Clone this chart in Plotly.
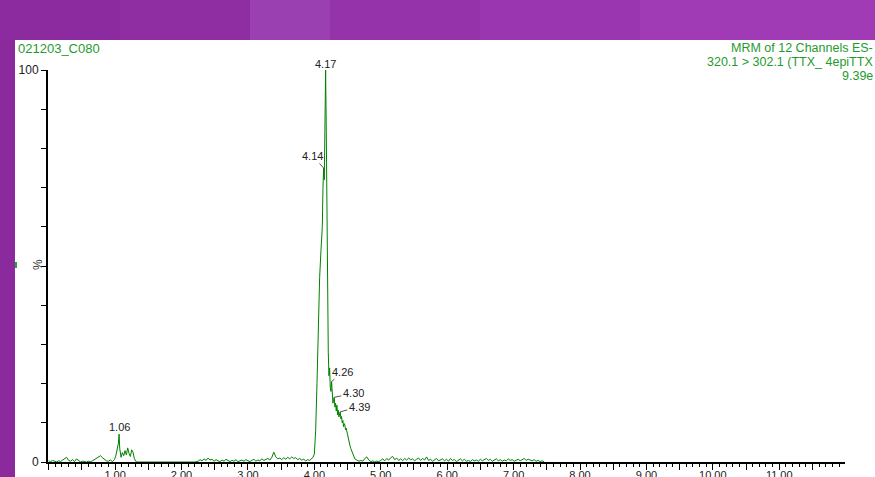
import plotly.graph_objects as go

# ---------------- data ----------------
t_early = [0.00, 0.03, 0.06, 0.09, 0.12, 0.15, 0.18, 0.21, 0.24, 0.27, 0.30, 0.33, 0.36, 0.39,
           0.42, 0.45, 0.48, 0.51, 0.54, 0.57, 0.60, 0.63, 0.66, 0.69, 0.72, 0.75, 0.78, 0.81,
           0.84, 0.87, 0.90, 0.93, 0.96, 0.99, 1.01, 1.03, 1.05, 1.06, 1.07, 1.09, 1.11, 1.13,
           1.15, 1.17, 1.19, 1.21, 1.23, 1.25, 1.27, 1.29, 1.31, 1.33, 1.40, 2.20]
i_early = [0.3, 0.1, 0.4, 0.2, 0.0, 0.3, 0.1, 0.5, 0.9, 1.2, 0.4, 0.2, 0.6, 0.1,
           0.8, 0.3, 0.0, 0.2, 0.1, 0.0, 0.2, 0.1, 0.3, 0.6, 1.0, 1.4, 1.6, 1.1,
           0.7, 0.3, 0.2, 0.5, 0.1, 0.6, 1.5, 3.0, 4.8, 7.1, 3.5, 1.2, 2.4, 1.6,
           2.9, 1.8, 3.6, 2.2, 1.4, 3.1, 2.5, 0.9, 0.2, 0.0, 0.0, 0.0]

t_mid = [2.25, 2.28, 2.31, 2.34, 2.37, 2.40, 2.43, 2.46, 2.49, 2.52, 2.55, 2.58, 2.61, 2.64,
         2.67, 2.70, 2.73, 2.76, 2.79, 2.82, 2.85, 2.88, 2.91, 2.94, 2.97, 3.00, 3.03, 3.06,
         3.09, 3.12, 3.15, 3.18, 3.21, 3.24, 3.27, 3.30, 3.33, 3.36, 3.39, 3.42, 3.45, 3.48,
         3.51, 3.54, 3.57, 3.60, 3.63, 3.66, 3.69, 3.72, 3.75, 3.78, 3.81, 3.84, 3.87, 3.90,
         3.93, 3.96]
i_mid = [0.2, 0.6, 0.3, 0.8, 0.4, 1.0, 0.5, 0.7, 0.2, 0.6, 0.3, 0.1, 0.5, 0.2,
         0.7, 0.3, 0.1, 0.4, 0.2, 0.6, 0.1, 0.3, 0.5, 0.2, 0.6, 0.3, 0.1, 0.4,
         0.7, 0.2, 0.5, 0.3, 0.8, 0.4, 0.6, 0.9, 0.5, 1.2, 2.5, 1.3, 0.8, 1.0,
         0.6, 1.1, 0.7, 1.2, 0.8, 1.3, 0.9, 1.1, 0.6, 0.9, 0.5, 0.7, 0.3, 0.6,
         0.4, 0.8]

t_peak = [3.98, 4.00, 4.02, 4.04, 4.06, 4.07, 4.08, 4.10, 4.12, 4.13, 4.14, 4.15, 4.16, 4.17,
          4.18, 4.19, 4.20, 4.21, 4.22, 4.23, 4.24, 4.25, 4.26, 4.27, 4.28, 4.29, 4.30, 4.31,
          4.32, 4.33, 4.34, 4.35, 4.36, 4.37, 4.38, 4.39, 4.40, 4.41, 4.42, 4.43, 4.44, 4.45,
          4.46, 4.47, 4.48, 4.49, 4.50, 4.51, 4.52, 4.53, 4.54, 4.55, 4.56, 4.58, 4.59, 4.61,
          4.64, 4.67]
i_peak = [1.2, 2.0, 8.0, 20.0, 35.0, 42.0, 47.0, 54.0, 60.0, 70.0, 75.0, 72.0, 90.0, 100.0,
          84.0, 60.0, 40.0, 28.0, 22.0, 24.0, 19.0, 18.0, 20.5, 17.0, 15.0, 16.0, 16.5, 14.0,
          15.0, 13.0, 14.5, 12.0, 13.2, 11.5, 12.4, 12.8, 11.0, 11.6, 10.0, 10.6, 9.0, 9.8,
          9.4, 8.2, 8.6, 7.7, 7.0, 6.5, 5.8, 5.0, 3.9, 3.4, 3.0, 2.2, 1.8, 0.8,
          0.5, 0.2]

t_late = [4.70, 4.73, 4.76, 4.79, 4.82, 4.85, 4.88, 4.91, 4.94, 4.97, 5.00, 5.03, 5.06, 5.09,
          5.12, 5.15, 5.18, 5.21, 5.24, 5.27, 5.30, 5.33, 5.36, 5.39, 5.42, 5.45, 5.48, 5.51,
          5.54, 5.57, 5.60, 5.63, 5.66, 5.69, 5.72, 5.75, 5.78, 5.81, 5.84, 5.87, 5.90, 5.93,
          5.96, 5.99, 6.02, 6.05, 6.08, 6.11, 6.14, 6.17, 6.20, 6.23, 6.26, 6.29, 6.32, 6.35,
          6.38, 6.41, 6.44, 6.47, 6.50, 6.53, 6.56, 6.59, 6.62, 6.65, 6.68, 6.71, 6.74, 6.77,
          6.80, 6.83, 6.86, 6.89, 6.92, 6.95, 6.98, 7.01, 7.04, 7.07, 7.10, 7.13, 7.16, 7.19,
          7.22, 7.25, 7.28, 7.31, 7.34, 7.37, 7.40, 7.43, 7.46]
i_late = [0.4, 0.2, 0.9, 1.3, 0.5, 0.1, 0.3, 0.0, 0.2, 0.1, 0.4, 0.8, 0.3, 0.9,
          0.5, 1.1, 1.4, 0.6, 1.0, 0.4, 0.8, 0.3, 0.9, 0.5, 1.0, 0.6, 0.8, 0.3,
          0.7, 1.0, 0.4, 0.9, 0.5, 1.3, 0.4, 0.7, 0.2, 0.5, 0.9, 0.3, 0.6, 0.8,
          0.3, 0.7, 0.2, 0.9, 0.4, 0.6, 0.1, 0.5, 0.8, 0.3, 0.7, 0.2, 0.4, 0.1,
          0.6, 0.3, 0.5, 0.2, 0.7, 0.3, 0.6, 0.9, 0.4, 0.7, 0.2, 0.5, 0.8, 0.3,
          0.6, 0.2, 0.5, 0.3, 0.8, 0.4, 0.6, 0.2, 0.5, 0.7, 0.3, 0.6, 0.9, 0.4,
          0.7, 0.5, 0.3, 0.6, 0.2, 0.4, 0.1, 0.3, 0.0]

peak_times = [1.06, 4.14, 4.17, 4.26, 4.30, 4.39]
peak_values = [7.1, 75.0, 100.0, 20.5, 16.5, 12.8]
peak_labels = ["1.06", "4.14", "4.17", "4.26", "4.30", "4.39"]

x_tick_vals = [0.5 * k for k in range(0, 24)]
x_tick_text = ["" if k % 2 else ("" if k == 0 else f"{k // 2}.00") for k in range(0, 24)]
y_tick_vals = list(range(0, 101, 10))
y_tick_text = ["0"] + [""] * 9 + ["100"]

title_left = "021203_C080"
title_right = ["MRM of 12 Channels ES-", "320.1 > 302.1 (TTX_ 4epiTTX", "9.39e"]

# ---------------- layout geometry ----------------
W, H = 875, 477
ML, MR, MT, MB = 48, 30, 70, 15
PW, PH = W - ML - MR, H - MT - MB


def px_x(p):
    return (p - ML) / PW


def px_y(p):
    return (H - MB - p) / PH


FONT = "Liberation Sans, Arial, sans-serif"
GREEN_TXT = "#1f9a2f"

times = t_early + t_mid + t_peak + t_late
vals = i_early + i_mid + i_peak + i_late

fig = go.Figure()
fig.add_trace(go.Scatter(x=times, y=vals, mode="lines",
                         line=dict(color="#008000", width=1), hoverinfo="skip"))

shapes = []
# purple surroundings
shapes.append(dict(type="rect", xref="paper", yref="paper", x0=px_x(15), x1=px_x(W + 5),
                   y0=px_y(H + 5), y1=px_y(40), fillcolor="white", line_width=0, layer="below"))
top_strips = [(-5, 120, "#8c2b9f"), (120, 250, "#8f2da2"), (250, 330, "#9b40b0"),
              (330, 480, "#9533aa"), (480, 640, "#9a36af"), (640, 880, "#a03bb5")]
for a, b, c in top_strips:
    shapes.append(dict(type="rect", xref="paper", yref="paper", x0=px_x(a), x1=px_x(b),
                       y0=px_y(40), y1=px_y(-5), fillcolor=c, line_width=0, layer="below"))
shapes.append(dict(type="rect", xref="paper", yref="paper", x0=px_x(-5), x1=px_x(15),
                   y0=px_y(H + 5), y1=px_y(40), fillcolor="#8a2a9d", line_width=0, layer="below"))
shapes.append(dict(type="rect", xref="paper", yref="paper", x0=px_x(15), x1=px_x(17),
                   y0=px_y(268), y1=px_y(262), fillcolor="#22a830", line_width=0, layer="below"))

annotations = []
annotations.append(dict(text=title_left, xref="paper", yref="paper", x=px_x(16), y=px_y(48),
                        xanchor="left", yanchor="middle", showarrow=False,
                        font=dict(family=FONT, size=13, color=GREEN_TXT)))
for k, line in enumerate(title_right):
    annotations.append(dict(text=line, xref="paper", yref="paper", x=px_x(875), y=px_y(48 + 14 * k),
                            xanchor="right", yanchor="middle", showarrow=False,
                            font=dict(family=FONT, size=12.5, color=GREEN_TXT)))
annotations.append(dict(text="%", xref="paper", yref="paper", x=px_x(38), y=px_y(265),
                        xanchor="center", yanchor="middle", showarrow=False, textangle=-90,
                        font=dict(family=FONT, size=12, color="#333")))

label_offsets = {"1.06": (0, -7, False), "4.17": (0, -6, False),
                 "4.14": (-11, -12, True), "4.26": (11, -10, True),
                 "4.30": (19, -4, True), "4.39": (19, -5, True)}
for tt, vv, lab in zip(peak_times, peak_values, peak_labels):
    dx, dy, arrow = label_offsets[lab]
    if arrow:
        annotations.append(dict(text=lab, x=tt, y=vv, xref="x", yref="y", showarrow=True,
                                ax=dx, ay=dy, arrowhead=0, arrowwidth=1, arrowcolor="#555",
                                standoff=0, font=dict(family=FONT, size=11, color="#222")))
    else:
        annotations.append(dict(text=lab, x=tt, y=vv, xref="x", yref="y", showarrow=False,
                                xanchor="center", yanchor="middle", yshift=-dy,
                                font=dict(family=FONT, size=11, color="#222")))

fig.update_layout(
    width=W, height=H,
    margin=dict(l=ML, r=MR, t=MT, b=MB, pad=0, autoexpand=False),
    paper_bgcolor="#8e2ca1", plot_bgcolor="white",
    showlegend=False,
    shapes=shapes, annotations=annotations,
    xaxis=dict(range=[-0.01, 11.99], showgrid=False, zeroline=False, automargin=False,
               showline=True, linecolor="black", linewidth=2, mirror=False,
               ticks="outside", ticklen=6, tickwidth=1, tickcolor="black",
               tickmode="array", tickvals=x_tick_vals, ticktext=x_tick_text,
               ticklabelstandoff=-4,
               tickfont=dict(family=FONT, size=11, color="#222"),
               minor=dict(dtick=0.1, tick0=0, ticks="outside", ticklen=3, tickcolor="black", tickwidth=1),
               fixedrange=True),
    yaxis=dict(range=[0, 100], showgrid=False, zeroline=False, automargin=False,
               showline=True, linecolor="black", linewidth=2,
               ticks="outside", ticklen=5, tickwidth=1, tickcolor="black",
               tickmode="array", tickvals=y_tick_vals, ticktext=y_tick_text,
               tickfont=dict(family=FONT, size=12, color="#222"),
               fixedrange=True),
)

fig.write_html("out.html", config={"displayModeBar": False},
               post_script="document.body.style.margin='0px';document.body.style.overflow='hidden';")
